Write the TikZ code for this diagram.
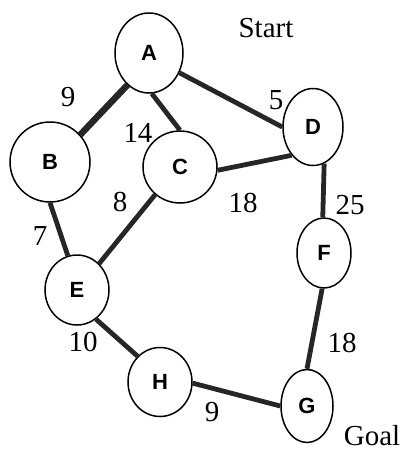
\documentclass[tikz,border=0pt]{standalone}
\usepackage{fontspec}
\setmainfont{Liberation Serif}
\newfontfamily\nodefont{Liberation Sans}
\usetikzlibrary{shapes.geometric}
\begin{document}
\begin{tikzpicture}[x=1pt,y=-1pt,
  vert/.style={ellipse,draw=black,line width=1.5pt,fill=white,inner sep=0pt,
    font=\nodefont\bfseries\fontsize{22}{24}\selectfont},
  edge/.style={line width=4.8pt,draw=black!85,line cap=butt},
  wlab/.style={font=\fontsize{29}{32}\selectfont,inner sep=0pt}]
\useasboundingbox (0,0) rectangle (402,459);
\node[vert,minimum width=68pt,minimum height=80pt] (A) at (149,53) {A};
\node[vert,minimum width=80pt,minimum height=80pt] (B) at (50,162) {B};
\node[vert,minimum width=74pt,minimum height=72pt] (C) at (180,167) {C};
\node[vert,minimum width=60pt,minimum height=77pt] (D) at (313,127) {D};
\node[vert,minimum width=64pt,minimum height=70pt] (E) at (77,290) {E};
\node[vert,minimum width=54pt,minimum height=70pt] (F) at (324,253) {F};
\node[vert,minimum width=64pt,minimum height=69pt] (H) at (160,382) {H};
\node[vert,minimum width=52pt,minimum height=73pt] (G) at (307,406) {G};
\draw[edge,line width=6.5pt] (A.-124) -- (B.42);
\draw[edge] (A.-86) -- (C.90);
\draw[edge] (A.-33) -- (D.180);
\draw[edge] (C.-5) -- (D.-127);
\draw[edge] (C.-132) -- (E.50);
\draw[edge] (B.-90) -- (E.105);
\draw[edge] (D.-73) -- (F.92);
\draw[edge] (F.-93) -- (G.90);
\draw[edge] (E.-57) -- (H.131);
\draw[edge] (H.-2) -- (G.180);
\node[wlab] (start) at (266,28) {Start};
\node[wlab] (goal) at (372,436) {Goal};
\node[wlab] (wab) at (68,97) {9};
\node[wlab] (wad) at (276,100) {5};
\node[wlab] (wac) at (138,133) {14};
\node[wlab] (wcd) at (243,203) {18};
\node[wlab] (wce) at (120,202) {8};
\node[wlab] (wdf) at (350,205) {25};
\node[wlab] (wbe) at (40,236) {7};
\node[wlab] (weh) at (83,342) {10};
\node[wlab] (wfg) at (342,343) {18};
\node[wlab] (whg) at (212,412) {9};
\end{tikzpicture}
\end{document}
